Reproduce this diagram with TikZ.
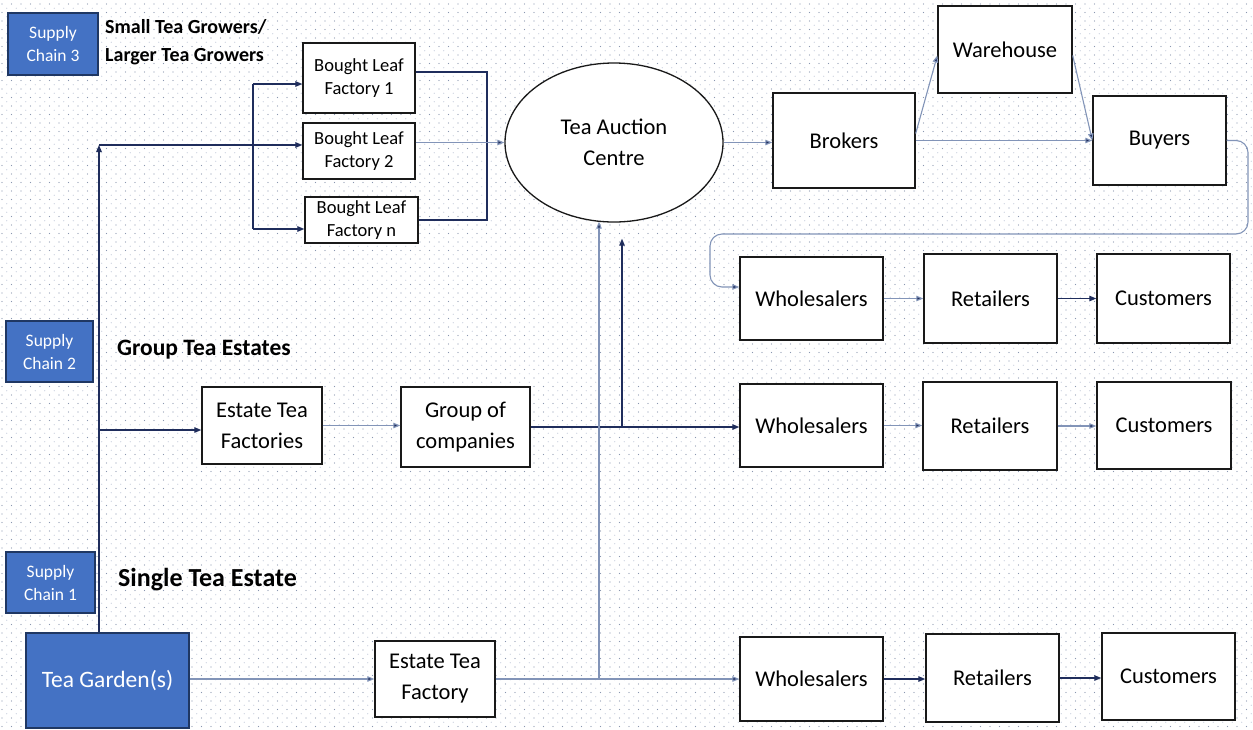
\documentclass[tikz,border=0pt]{standalone}
\usepackage{fontspec}
\setmainfont{Carlito}
\usetikzlibrary{shapes.geometric,arrows.meta,calc}
\definecolor{navy}{HTML}{1F2D5C}
\definecolor{lnav}{HTML}{8294B8}
\definecolor{sblue}{HTML}{4472C4}
\definecolor{sbord}{HTML}{1F3763}
\definecolor{dotc}{HTML}{8A96B0}
\definecolor{dotl}{HTML}{C9D0DE}
\tikzset{
 box/.style={draw=black!90, line width=1.4pt, fill=white, inner sep=0pt, align=center, font=\fontsize{22.5}{31}\selectfont},
 blbox/.style={box, font=\fontsize{18.5}{23}\selectfont, line width=1.3pt},
 scbox/.style={draw=sbord, line width=1.6pt, fill=sblue, text=white, inner sep=0pt, align=center, font=\fontsize{17.5}{23}\selectfont},
 lbl/.style={anchor=west, inner sep=0pt, align=left, font=\bfseries\fontsize{20}{28}\selectfont},
 lnk/.style={draw=navy, line width=1.2pt, -{Triangle[length=7pt,width=5.5pt]}},
 lnkl/.style={draw=lnav, line width=1.1pt, -{Triangle[length=7pt,width=5.5pt,fill=navy]}},
}
\begin{document}
\begin{tikzpicture}[x=1pt,y=-1pt]
\useasboundingbox (0,0) rectangle (1253,729);
\fill[white] (0,0) rectangle (1253,729);
% dotted background
\foreach \yy in {4,12.5,...,729}
  \draw[dotl, line width=1.2pt, dash pattern=on 0pt off 9.5pt, line cap=round] (6.75,\yy+4.25) -- (1253,\yy+4.25);
\foreach \yy in {4,12.5,...,729}
  \draw[dotc, line width=1.2pt, dash pattern=on 0pt off 9.5pt, line cap=round] (2,\yy) -- (1253,\yy);

% supply chain labels
\node[scbox, minimum width=90pt, minimum height=62pt] (sc3) at (53,44) {Supply\\Chain 3};
\node[scbox, minimum width=87pt, minimum height=61pt] (sc2) at (49.5,351.5) {Supply\\Chain 2};
\node[scbox, minimum width=89pt, minimum height=61pt] (sc1) at (50.5,582.5) {Supply\\Chain 1};
\node[scbox, minimum width=163pt, minimum height=95pt, font=\fontsize{23.5}{28}\selectfont] (tg) at (107.5,680.5) {Tea Garden(s)};

\node[lbl] (l3) at (105,42.5) {Small Tea Growers/\\Larger Tea Growers};
\node[lbl, font=\bfseries\fontsize{23.5}{26}\selectfont] (l2) at (117,350) {Group Tea Estates};
\node[lbl, font=\bfseries\fontsize{26}{28}\selectfont] (l1) at (118,580) {Single Tea Estate};

% bought leaf factories
\node[blbox, minimum width=112pt, minimum height=70pt] (f1) at (359,78) {Bought Leaf\\Factory 1};
\node[blbox, minimum width=112pt, minimum height=56pt] (f2) at (359,151) {Bought Leaf\\Factory 2};
\node[blbox, minimum width=113pt, minimum height=46pt] (fn) at (361.5,220) {Bought Leaf\\Factory n};

% auction
\node[box, ellipse, line width=1.3pt, minimum width=218pt, minimum height=159pt] (auc) at (614,142.5) {Tea Auction\\Centre};

\node[box, minimum width=142pt, minimum height=95pt] (brk) at (844,140.5) {Brokers};
\node[box, minimum width=134pt, minimum height=87pt] (wh) at (1005,49.5) {Warehouse};
\node[box, minimum width=133pt, minimum height=89pt] (buy) at (1159.5,140.5) {Buyers};

% rows
\node[box, minimum width=143pt, minimum height=83pt] (w1) at (811.5,298.5) {Wholesalers};
\node[box, minimum width=133pt, minimum height=89pt] (r1) at (990.5,298.5) {Retailers};
\node[box, minimum width=133pt, minimum height=89pt] (c1) at (1163.5,298.5) {Customers};

\node[box, minimum width=143pt, minimum height=83pt] (w2) at (811.5,425.5) {Wholesalers};
\node[box, minimum width=134pt, minimum height=88pt] (r2) at (990,426) {Retailers};
\node[box, minimum width=134pt, minimum height=87pt] (c2) at (1164,425.5) {Customers};

\node[box, minimum width=143pt, minimum height=84pt] (w3) at (811.5,679) {Wholesalers};
\node[box, minimum width=133pt, minimum height=88pt] (r3) at (992.5,678) {Retailers};
\node[box, minimum width=133pt, minimum height=87pt] (c3) at (1168.5,676.5) {Customers};

\node[box, minimum width=120pt, minimum height=77pt] (etf) at (262,425.5) {Estate Tea\\Factories};
\node[box, minimum width=129pt, minimum height=80pt] (grp) at (465.5,427) {Group of\\companies};
\node[box, minimum width=120pt, minimum height=76pt] (ety) at (435,679) {Estate Tea\\Factory};

% trunk and feeds
\coordinate (tk) at (99,145);
\coordinate (tk2) at (99,430);
\draw[lnk] (tg.north -| tk) -- (tk);
\draw[lnk] (tk) -- (tk -| f2.west);
\draw[lnk] (tk2) -- (tk2 -| etf.west);

\coordinate (sp1) at (253,84);
\coordinate (sp2) at (253,229);
\draw[lnk,-] (sp1) -- (sp2);
\draw[lnk] (sp1) -- (sp1 -| f1.west);
\draw[lnk] (sp2) -- (sp2 -| fn.west);

\coordinate (mg1) at (487,72);
\coordinate (mg2) at (487,220);
\draw[lnk,-] (mg1 -| f1.east) -- (mg1) -- (mg2) -- (mg2 -| fn.east);
\draw[lnkl] (auc.west -| f2.east) -- (auc.west);

% auction right side
\draw[lnkl] (auc.east) -- (auc.east -| brk.west);
\draw[lnkl] ($(brk.east)+(0,-7)$) -- ($(wh.west)+(0,6)$);
\draw[lnkl] (brk.east) -- (brk.east -| buy.west);
\draw[lnkl] ($(wh.east)+(0,6)$) -- (buy.west);

\coordinate (b1) at (1248,234);
\coordinate (b2) at (710,234);
\coordinate (b3) at (710,287);
\draw[lnkl, rounded corners=12pt] (buy.east) -- (buy.east -| b1) -- (b1) -- (b2) -- (b3) -- (b3 -| w1.west);

\draw[lnkl] (w1.east) -- (r1.west);
\draw[lnk] (r1.east) -- (r1.east -| c1.west);

% group row
\draw[lnkl] (etf.east) -- (etf.east -| grp.west);
\draw[lnk] (grp.east) -- (grp.east -| w2.west);
\coordinate (u2) at (622,427);
\draw[lnk] (u2) -- ($(auc.south -| u2)+(0,16)$);
\draw[lnkl] (w2.east) -- (w2.east -| r2.west);
\draw[lnkl] (r2.east) -- (r2.east -| c2.west);

% single estate row
\draw[lnkl] (ety.west -| tg.east) -- (ety.west);
\draw[lnkl] (ety.east) -- (ety.east -| w3.west);
\coordinate (u1) at (599,678);
\draw[lnkl] (u1) -- ($(auc.south -| u1)+(0,-1)$);
\draw[lnk] (w3.east) -- (w3.east -| r3.west);
\draw[lnk] (r3.east) -- (r3.east -| c3.west);
\end{tikzpicture}
\end{document}
